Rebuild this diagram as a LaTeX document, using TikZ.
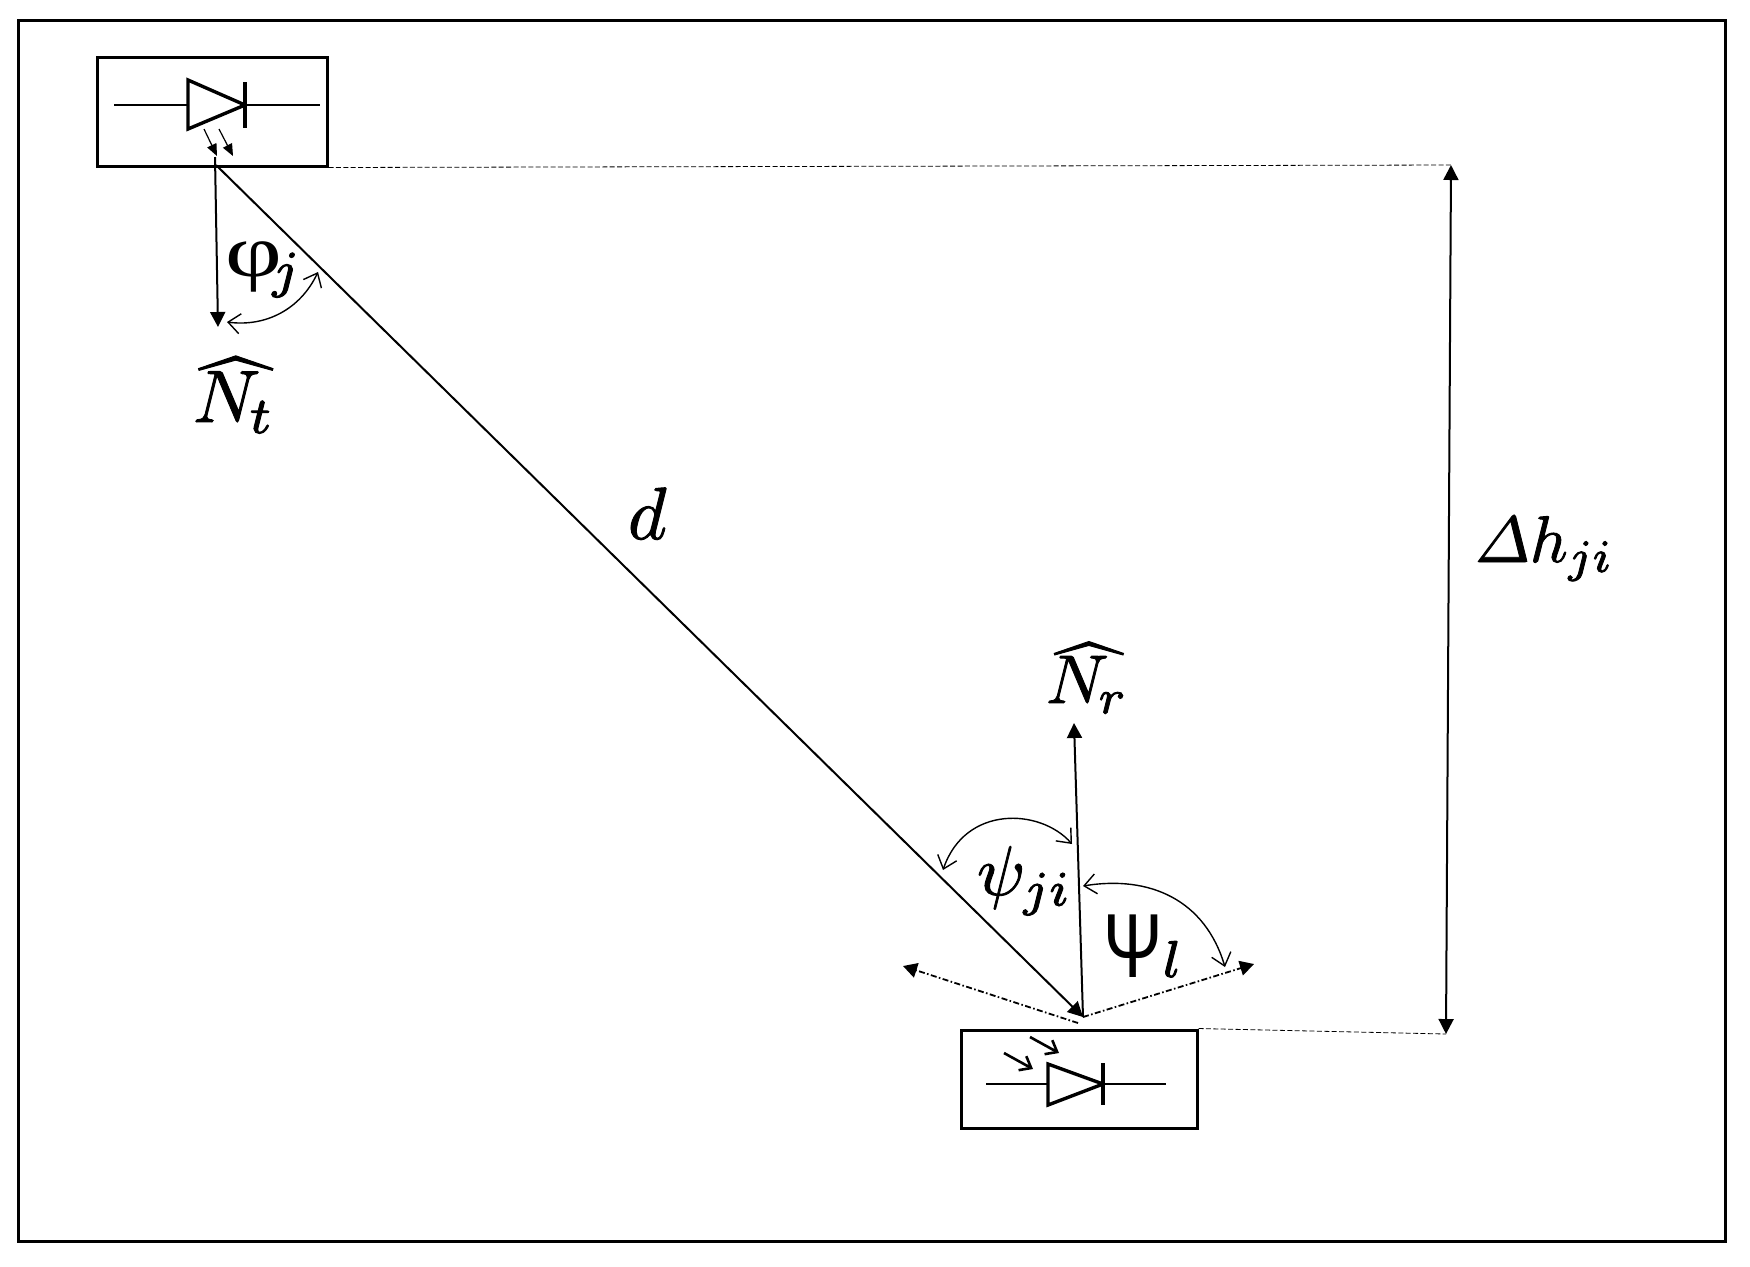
\documentclass[tikz,border=0pt]{standalone}
\usepackage{fontspec}
\usepackage{amsmath}
\usepackage{graphicx}
\usetikzlibrary{arrows.meta}
\newfontfamily\serifgr{Liberation Serif}
\newfontfamily\sansgr{Liberation Sans}
\newcommand{\heavytext}[1]{\special{pdf:code 2 Tr 0.13 w}#1\special{pdf:code 0 Tr 1 w}}
\newcommand{\lowhat}[2]{\rlap{\raisebox{-1.3pt}{$\widehat{\phantom{#1}}$}}$#2$}
\tikzset{
  frameline/.style={line width=1.5pt,draw=black},
  devbox/.style={draw=black,line width=1.5pt,inner sep=0pt,fill=none},
  wire/.style={line width=1.3pt,draw=black},
  diodeshape/.style={line width=1.7pt,draw=black,line join=miter},
  main/.style={line width=1pt,draw=black},
  solidtip/.style={-{Triangle[length=7.5pt,width=7.5pt]}},
  solidtips/.style={{Triangle[length=7.5pt,width=7.5pt]}-{Triangle[length=7.5pt,width=7.5pt]}},
  angarc/.style={line width=0.7pt,draw=black,{Straight Barb[length=6pt,width=10pt,line width=0.7pt]}-{Straight Barb[length=6pt,width=10pt,line width=0.7pt]}},
  guide/.style={line width=0.4pt,draw=black,dash pattern=on 2.5pt off 1.2pt},
  fov/.style={line width=0.9pt,draw=black,dash pattern=on 3pt off 1.2pt on 0.8pt off 1.2pt,-{Triangle[length=7pt,width=7.5pt]}},
  lightin/.style={line width=1.3pt,draw=black,-{Straight Barb[length=5pt,width=8pt,line width=1.3pt]}},
  lightout/.style={line width=0.6pt,draw=black,-{Triangle[length=6pt,width=5pt]}},
  lab/.style={scale=3.7,anchor=base west,inner sep=0pt,outer sep=0pt}
}
\begin{document}
\begin{tikzpicture}[x=0.5pt,y=-0.5pt]
\useasboundingbox (0,0) rectangle (1750,1266);
\fill[white] (0,0) rectangle (1750,1266);
% frame
\draw[frameline] (18,20) rectangle (1725,1241);
% boxes
\node[devbox,minimum width=115pt,minimum height=54.5pt] (tx) at (212,111.5) {};
\node[devbox,minimum width=118pt,minimum height=49pt] (rx) at (1079,1079) {};
% transmitter diode
\coordinate (txL) at (114,105); \coordinate (txR) at (320,105);
\coordinate (txA) at (188,80); \coordinate (txB) at (188,129); \coordinate (txT) at (245,105);
\coordinate (txBa) at (245,82); \coordinate (txBb) at (245,128);
\draw[wire] (txL) -- (188,105) (txT) -- (txR);
\draw[diodeshape] (txA) -- (txT) -- (txB) -- cycle;
\draw[diodeshape] (txBa) -- (txBb);
\coordinate (o1a) at (204,129); \coordinate (o1b) at (217,156);
\coordinate (o2a) at (219,129); \coordinate (o2b) at (233,156);
\draw[lightout] (o1a) -- (o1b);
\draw[lightout] (o2a) -- (o2b);
% receiver diode
\coordinate (rxL) at (986,1084); \coordinate (rxR) at (1166,1084);
\coordinate (rxA) at (1048,1064); \coordinate (rxB) at (1048,1105); \coordinate (rxT) at (1103,1084);
\coordinate (rxBa) at (1103,1063); \coordinate (rxBb) at (1103,1105);
\draw[wire] (rxL) -- (1048,1084) (rxT) -- (rxR);
\draw[diodeshape] (rxA) -- (rxT) -- (rxB) -- cycle;
\draw[diodeshape] (rxBa) -- (rxBb);
\coordinate (i1a) at (1004,1053); \coordinate (i1b) at (1033,1069);
\coordinate (i2a) at (1030,1037); \coordinate (i2b) at (1059,1053);
\draw[lightin] (i1a) -- (i1b);
\draw[lightin] (i2a) -- (i2b);
% main geometry
\coordinate (txN) at (215,157);
\coordinate (txO) at (216,165);
\coordinate (nt) at (218,327);
\coordinate (rxO) at (1083,1017);
\coordinate (nr) at (1074,723);
\coordinate (fl) at (903,966);
\coordinate (fr) at (1254,964);
\coordinate (flo) at (1078,1023);
\draw[main,solidtip] (txN) -- (nt);
\draw[main,solidtip] (txO) -- (rxO);
\draw[main,solidtip] (rxO) -- (nr);
\draw[fov] (flo) -- (fl);
\draw[fov] (rxO) -- (fr);
% height guides
\coordinate (hT) at (1451,165);
\coordinate (hB) at (1446,1034);
\draw[guide] (tx.south east) -- (hT);
\draw[guide] (rx.north east) -- (hB);
\draw[main,solidtips] (hT) -- (hB);
% angle arcs
\coordinate (a1) at (227,322); \coordinate (a2) at (318,272);
\draw[angarc] (a1) .. controls (265,327) and (300,310) .. (a2);
\coordinate (b1) at (943,870); \coordinate (b2) at (1072,844);
\draw[angarc] (b1) .. controls (965,805) and (1040,808) .. (b2);
\coordinate (c1) at (1083,886); \coordinate (c2) at (1225,967);
\draw[angarc] (c1) .. controls (1150,875) and (1205,900) .. (c2);
% labels
\node[lab] (lphi) at (225,276) {\scalebox{1}[.75]{\fontsize{13.3}{13.3}\selectfont\serifgr φ}\heavytext{$_{\mkern-3mu j}$}};
\node[lab] (lnt) at (193,422) {\heavytext{\lowhat{N_t}{N_{\mkern-1mu t}}}};
\node[lab] (ld) at (628,539) {\heavytext{$d$}};
\node[lab,scale=.89] (ldh) at (1475,562) {\heavytext{$\varDelta h_{ji}$}};
\node[lab,scale=.93] (lnr) at (1046,703) {\heavytext{\lowhat{N_r}{N_{\mkern-1mu r}}}};
\node[lab,scale=.95] (lpsi) at (977,895) {\heavytext{$\psi_{ji}$}};
\node[lab] (lpl) at (1103,977) {\scalebox{.78}[1]{\fontsize{12.3}{12.3}\selectfont\sansgr Ψ}\heavytext{$\scriptstyle l$}};
\end{tikzpicture}
\end{document}
